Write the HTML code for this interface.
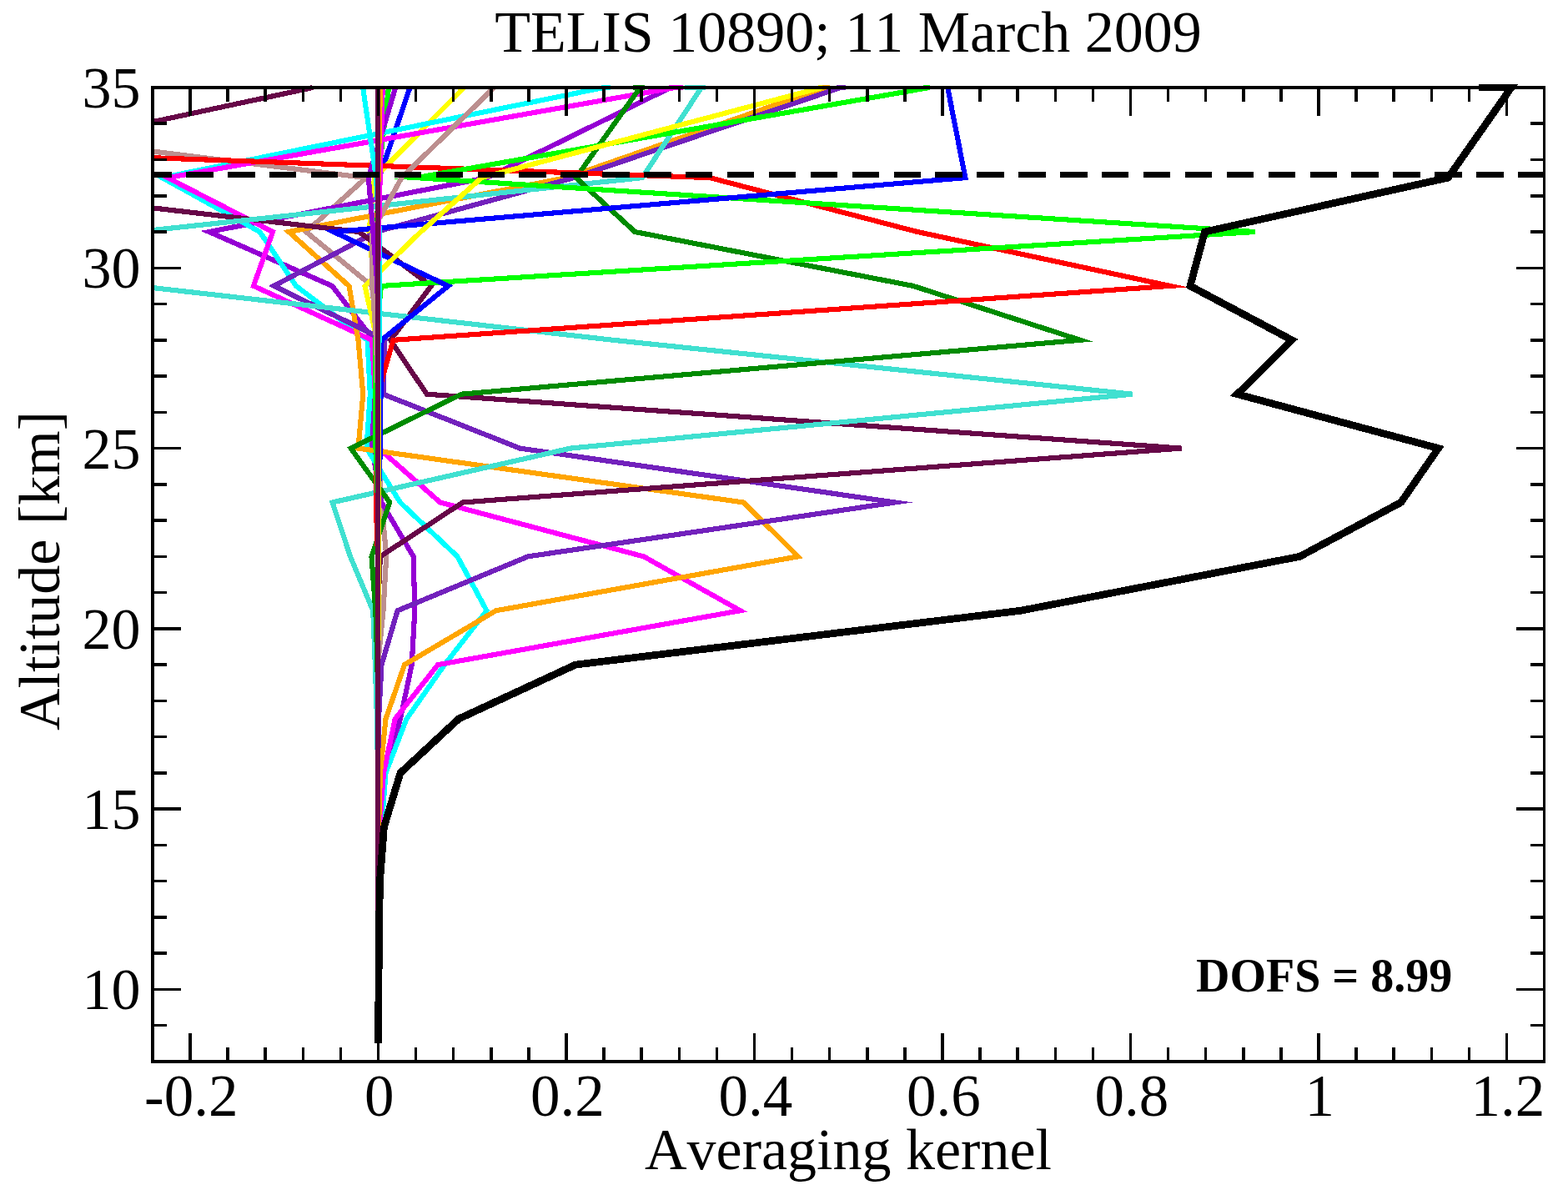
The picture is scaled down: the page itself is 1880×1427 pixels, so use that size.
<!DOCTYPE html>
<html lang="en"><head><meta charset="utf-8"><title>TELIS 10890; 11 March 2009</title>
<style>html,body{margin:0;padding:0;background:#fff}svg{display:block}text{font-family:"Liberation Serif","DejaVu Serif",serif;fill:#000;font-kerning:none;font-variant-ligatures:none}</style></head><body>
<svg width="1880" height="1427" viewBox="0 0 1880 1427">
<rect width="1880" height="1427" fill="#fff"/>
<g shape-rendering="crispEdges">
<g fill="none" stroke-width="6.12" stroke-linejoin="miter" stroke-miterlimit="10" stroke-linecap="butt">
<path stroke="#00ff00" d="M466,105L453.5,213.13L452,278.02L451.5,342.91L450.2,407.8L450.2,472.69L450.5,537.58L453,602.47L453,667.36L453,732.25L453,797.14L453,862.03L453,926.92L453,991.81L453,1056.7L453,1121.59L453,1186.48L453,1251.37"/>
<path stroke="#0000ff" d="M491.5,105L454.6,213.13L453.5,278.02L453.5,342.91L453,407.8L453,472.69L453,537.58L453,602.47L453,667.36L453,732.25L453,797.14L453,862.03L453,926.92L453,991.81L453,1056.7L453,1121.59L453,1186.48L453,1251.37"/>
<path stroke="#ffff00" d="M556.3,105L449,213.13L442.5,278.02L449,342.91L452,407.8L454,472.69L454,537.58L454,602.47L454,667.36L454,732.25L453,797.14L453,862.03L453,926.92L453,991.81L453,1056.7L453,1121.59L453,1186.48L453,1251.37"/>
<path stroke="#bc8f8f" d="M183,181.53L438.9,213.13L367,278.02L446,342.91L453,407.8L453,472.69L453,537.58L457.5,602.47L463.2,667.36L459.5,732.25L453,797.14L453,862.03L453,926.92L453,991.81L453,1056.7L453,1121.59L453,1186.48L453,1251.37"/>
<path stroke="#9400d3" d="M804,105L584,213.13L250.7,278.02L398.3,342.91L448,407.8L449,472.69L446,537.58L457.4,602.47L495.7,667.36L497.3,732.25L493.7,797.14L480,862.03L462,926.92L457.5,991.81L454,1056.7L453,1121.59L453,1186.48L453,1251.37"/>
<path stroke="#00ffff" d="M723.8,105L194.5,213.13L311.5,278.02L355,342.91L440.6,407.8L443.8,472.69L439.5,537.58L479.8,602.47L548.4,667.36L583.5,732.25L533,797.14L487.5,862.03L462.5,926.92L457.5,991.81L454,1056.7L453,1121.59L453,1186.48L453,1251.37M722.1,105H731.9"/>
<path stroke="#ff00ff" d="M809,105L201,213.13L327,278.02L304,342.91L446,407.8L450,472.69L454,537.58L527.7,602.47L771.8,667.36L887.5,732.25L525,797.14L473.7,862.03L460,926.92L455,991.81L453,1056.7L453,1121.59L453,1186.48L453,1251.37M802.1,105H818.7"/>
<path stroke="#ffa500" d="M989.4,105L679,213.13L346.3,278.02L418.5,342.91L429.5,407.8L435.3,472.69L429.5,537.58L891.5,602.47L957,667.36L594.7,732.25L485,797.14L462.5,862.03L456,926.92L454,991.81L453,1056.7L453,1121.59L453,1186.48L453,1251.37M983.9,105H995.1"/>
<path stroke="#7221bc" d="M1008,105L688,213.13L451,278.02L328.4,342.91L461.5,407.8L459.5,472.69L623.4,537.58L1073,602.47L633,667.36L476.6,732.25L457.5,797.14L454,862.03L453,926.92L453,991.81L453,1056.7L453,1121.59L453,1186.48L453,1251.37M1003.1,105H1014.3"/>
<path stroke="#670748" d="M375,105L183,146.11M183,249.36L430.6,278.02L517,342.91L468.2,407.8L511.7,472.69L1416.4,537.58L554.8,602.47L455.9,667.36L453,732.25L453,797.14L453,862.03L453,926.92L453,991.81L453,1056.7L453,1121.59L453,1186.48L453,1251.37"/>
<path stroke="#40e0d0" d="M841,105L770,213.13L183,275.99M183,345.07L735,407.8L1357.8,472.69L684,537.58L398.5,602.47L420,667.36L447.2,732.25L449.8,797.14L452,862.03L453,926.92L453,991.81L453,1056.7L453,1121.59L453,1186.48L453,1251.37M820.9,105H846"/>
<path stroke="#008b00" d="M767.5,105L690.6,213.13L761.3,278.02L1095,342.91L1295,407.8L553.2,472.69L420.7,537.58L467.2,602.47L445.5,667.36L450.3,732.25L452.5,797.14L453,862.03L453,926.92L453,991.81L453,1056.7L453,1121.59L453,1186.48L453,1251.37M759.1,105H772.8"/>
<path stroke="#ff0000" d="M183,189.22L851,213.13L1100,278.02L1403,342.91L471.5,407.8L453,472.69L452,537.58L450.7,602.47L453,667.36L453,732.25L453,797.14L453,862.03L453,926.92L453,991.81L453,1056.7L453,1121.59L453,1186.48L453,1251.37"/>
<path stroke="#00ff00" d="M1114,105L499,213.13L1504.8,278.02L457,342.91L450.2,407.8L450.2,472.69L450.5,537.58L453,602.47L453,667.36L453,732.25L453,797.14L453,862.03L453,926.92L453,991.81L453,1056.7L453,1121.59L453,1186.48L453,1251.37M1106.8,105H1114.8"/>
<path stroke="#0000ff" d="M1136.2,105L1157.4,213.13L400,278.02L537.4,342.91L457.5,407.8L456.5,472.69L456,537.58L453.5,602.47L454,667.36L454,732.25L453,797.14L453,862.03L453,926.92L453,991.81L453,1056.7L453,1121.59L453,1186.48L453,1251.37"/>
<path stroke="#ffff00" d="M985,105L577.5,213.13L504.5,278.02L437.5,342.91L452,407.8L454,472.69L454,537.58L454,602.47L454,667.36L454,732.25L453,797.14L453,862.03L453,926.92L453,991.81L453,1056.7L453,1121.59L453,1186.48L453,1251.37M980.7,105H986"/>
<path stroke="#bc8f8f" d="M592.3,105L481.5,213.13L446,278.02L446.5,342.91L451,407.8L453,472.69L453,537.58L453,602.47L453,667.36L453,732.25L453,797.14L453,862.03L453,926.92L453,991.81L453,1056.7L453,1121.59L453,1186.48L453,1251.37"/>
<path stroke="#9400d3" d="M474.2,105L441.8,213.13L447.4,278.02L452.5,342.91L453,407.8L453,472.69L453,537.58L453,602.47L453,667.36L453,732.25L453,797.14L453,862.03L453,926.92L453,991.81L453,1056.7L453,1121.59L453,1186.48L453,1251.37"/>
<path stroke="#00ffff" d="M435.1,105L451,213.13L454.9,278.02L454.9,342.91L454.5,407.8L453.5,472.69L453,537.58L453,602.47L453,667.36L453,732.25L453,797.14L453,862.03L453,926.92L453,991.81L453,1056.7L453,1121.59L453,1186.48L453,1251.37"/>
<path stroke="#ff00ff" d="M458.7,105L455.7,213.13L454,278.02L453,342.91L453,407.8L453,472.69L453,537.58L453,602.47L453,667.36L453,732.25L453,797.14L453,862.03L453,926.92L453,991.81L453,1056.7L453,1121.59L453,1186.48L453,1251.37"/>
<path stroke="#ffa500" d="M456,105L453.5,213.13L453,278.02L453,342.91L453,407.8L453,472.69L453,537.58L453,602.47L453,667.36L453,732.25L453,797.14L453,862.03L453,926.92L453,991.81L453,1056.7L453,1121.59L453,1186.48L453,1251.37"/>
<path stroke="#670748" d="M453,105L453,213.13L453,278.02L453,342.91L453,407.8L453,472.69L453,537.58L453,602.47L453,667.36L453,732.25L453,797.14L453,862.03L453,926.92L453,991.81L453,1056.7L453,1121.59L453,1186.48L453,1251.37"/>
<path stroke="#000000" stroke-width="8.75" d="M1773,105L1812,105L1736.3,213.13L1444.5,278.02L1427,342.91L1549,407.8L1483.5,472.69L1724.6,537.58L1679.7,602.47L1558.4,667.36L1223.8,732.25L690,797.14L550,862.03L480,926.92L460.4,991.81L455.5,1056.7L454.4,1121.59L454,1186.48L453.5,1251.37"/>
</g>
<path fill="#000" d="M183,206H205.7V213H183ZM223.2,206H255.6V213H223.2ZM273.1,206H305.5V213H273.1ZM323,206H355.4V213H323ZM372.9,206H405.3V213H372.9ZM422.8,206H455.2V213H422.8ZM472.7,206H505.1V213H472.7ZM522.6,206H555V213H522.6ZM572.5,206H604.9V213H572.5ZM622.4,206H654.8V213H622.4ZM672.3,206H704.7V213H672.3ZM722.2,206H754.6V213H722.2ZM772.1,206H804.5V213H772.1ZM822,206H854.4V213H822ZM871.9,206H904.3V213H871.9ZM921.8,206H954.2V213H921.8ZM971.7,206H1004.1V213H971.7ZM1021.6,206H1054V213H1021.6ZM1071.5,206H1103.9V213H1071.5ZM1121.4,206H1153.8V213H1121.4ZM1171.3,206H1203.7V213H1171.3ZM1221.2,206H1253.6V213H1221.2ZM1271.1,206H1303.5V213H1271.1ZM1321,206H1353.4V213H1321ZM1370.9,206H1403.3V213H1370.9ZM1420.8,206H1453.2V213H1420.8ZM1470.7,206H1503.1V213H1470.7ZM1520.6,206H1553V213H1520.6ZM1570.5,206H1602.9V213H1570.5ZM1620.4,206H1652.8V213H1620.4ZM1670.3,206H1702.7V213H1670.3ZM1720.2,206H1752.6V213H1720.2ZM1770.1,206H1802.5V213H1770.1ZM1820,206H1851.5V213H1820Z"/>
<path fill="#000" d="M181.25,103.25H1853.25V106.75H181.25ZM181.25,1271.25H1853.25V1274.75H181.25ZM181.25,103.25H184.75V1274.75H181.25ZM1849.75,103.25H1853.25V1274.75H1849.75ZM226.25,1239H229.75V1273H226.25ZM226.25,105H229.75V139H226.25ZM271.35,1256H274.85V1273H271.35ZM271.35,105H274.85V122H271.35ZM316.45,1256H319.95V1273H316.45ZM316.45,105H319.95V122H316.45ZM361.55,1256H365.05V1273H361.55ZM361.55,105H365.05V122H361.55ZM406.65,1256H410.15V1273H406.65ZM406.65,105H410.15V122H406.65ZM451.75,1239H455.25V1273H451.75ZM451.75,105H455.25V139H451.75ZM496.85,1256H500.35V1273H496.85ZM496.85,105H500.35V122H496.85ZM541.95,1256H545.45V1273H541.95ZM541.95,105H545.45V122H541.95ZM587.05,1256H590.55V1273H587.05ZM587.05,105H590.55V122H587.05ZM632.15,1256H635.65V1273H632.15ZM632.15,105H635.65V122H632.15ZM677.25,1239H680.75V1273H677.25ZM677.25,105H680.75V139H677.25ZM722.35,1256H725.85V1273H722.35ZM722.35,105H725.85V122H722.35ZM767.45,1256H770.95V1273H767.45ZM767.45,105H770.95V122H767.45ZM812.55,1256H816.05V1273H812.55ZM812.55,105H816.05V122H812.55ZM857.65,1256H861.15V1273H857.65ZM857.65,105H861.15V122H857.65ZM902.75,1239H906.25V1273H902.75ZM902.75,105H906.25V139H902.75ZM947.85,1256H951.35V1273H947.85ZM947.85,105H951.35V122H947.85ZM992.95,1256H996.45V1273H992.95ZM992.95,105H996.45V122H992.95ZM1038.05,1256H1041.55V1273H1038.05ZM1038.05,105H1041.55V122H1038.05ZM1083.15,1256H1086.65V1273H1083.15ZM1083.15,105H1086.65V122H1083.15ZM1128.25,1239H1131.75V1273H1128.25ZM1128.25,105H1131.75V139H1128.25ZM1173.35,1256H1176.85V1273H1173.35ZM1173.35,105H1176.85V122H1173.35ZM1218.45,1256H1221.95V1273H1218.45ZM1218.45,105H1221.95V122H1218.45ZM1263.55,1256H1267.05V1273H1263.55ZM1263.55,105H1267.05V122H1263.55ZM1308.65,1256H1312.15V1273H1308.65ZM1308.65,105H1312.15V122H1308.65ZM1353.75,1239H1357.25V1273H1353.75ZM1353.75,105H1357.25V139H1353.75ZM1398.85,1256H1402.35V1273H1398.85ZM1398.85,105H1402.35V122H1398.85ZM1443.95,1256H1447.45V1273H1443.95ZM1443.95,105H1447.45V122H1443.95ZM1489.05,1256H1492.55V1273H1489.05ZM1489.05,105H1492.55V122H1489.05ZM1534.15,1256H1537.65V1273H1534.15ZM1534.15,105H1537.65V122H1534.15ZM1579.25,1239H1582.75V1273H1579.25ZM1579.25,105H1582.75V139H1579.25ZM1624.35,1256H1627.85V1273H1624.35ZM1624.35,105H1627.85V122H1624.35ZM1669.45,1256H1672.95V1273H1669.45ZM1669.45,105H1672.95V122H1669.45ZM1714.55,1256H1718.05V1273H1714.55ZM1714.55,105H1718.05V122H1714.55ZM1759.65,1256H1763.15V1273H1759.65ZM1759.65,105H1763.15V122H1759.65ZM1804.75,1239H1808.25V1273H1804.75ZM1804.75,105H1808.25V139H1804.75ZM183,1227.99H200V1231.49H183ZM1834.5,1227.99H1851.5V1231.49H1834.5ZM183,1184.73H217V1188.23H183ZM1817.5,1184.73H1851.5V1188.23H1817.5ZM183,1141.47H200V1144.97H183ZM1834.5,1141.47H1851.5V1144.97H1834.5ZM183,1098.21H200V1101.71H183ZM1834.5,1098.21H1851.5V1101.71H1834.5ZM183,1054.95H200V1058.45H183ZM1834.5,1054.95H1851.5V1058.45H1834.5ZM183,1011.69H200V1015.19H183ZM1834.5,1011.69H1851.5V1015.19H1834.5ZM183,968.43H217V971.93H183ZM1817.5,968.43H1851.5V971.93H1817.5ZM183,925.17H200V928.67H183ZM1834.5,925.17H1851.5V928.67H1834.5ZM183,881.91H200V885.41H183ZM1834.5,881.91H1851.5V885.41H1834.5ZM183,838.65H200V842.15H183ZM1834.5,838.65H1851.5V842.15H1834.5ZM183,795.39H200V798.89H183ZM1834.5,795.39H1851.5V798.89H1834.5ZM183,752.13H217V755.63H183ZM1817.5,752.13H1851.5V755.63H1817.5ZM183,708.87H200V712.37H183ZM1834.5,708.87H1851.5V712.37H1834.5ZM183,665.61H200V669.11H183ZM1834.5,665.61H1851.5V669.11H1834.5ZM183,622.35H200V625.85H183ZM1834.5,622.35H1851.5V625.85H1834.5ZM183,579.09H200V582.59H183ZM1834.5,579.09H1851.5V582.59H1834.5ZM183,535.83H217V539.33H183ZM1817.5,535.83H1851.5V539.33H1817.5ZM183,492.57H200V496.07H183ZM1834.5,492.57H1851.5V496.07H1834.5ZM183,449.31H200V452.81H183ZM1834.5,449.31H1851.5V452.81H1834.5ZM183,406.05H200V409.55H183ZM1834.5,406.05H1851.5V409.55H1834.5ZM183,362.79H200V366.29H183ZM1834.5,362.79H1851.5V366.29H1834.5ZM183,319.53H217V323.03H183ZM1817.5,319.53H1851.5V323.03H1817.5ZM183,276.27H200V279.77H183ZM1834.5,276.27H1851.5V279.77H1834.5ZM183,233.01H200V236.51H183ZM1834.5,233.01H1851.5V236.51H1834.5ZM183,189.75H200V193.25H183ZM1834.5,189.75H1851.5V193.25H1834.5ZM183,146.49H200V149.99H183ZM1834.5,146.49H1851.5V149.99H1834.5Z"/>
</g>
<g font-size="70" text-anchor="middle">
<text x="1017" y="62">TELIS 10890; 11 March 2009</text>
<text x="1017" y="1402">Averaging kernel</text>
<text transform="translate(71,684.5) rotate(-90)">Altitude [km]</text>
</g>
<g font-size="71" text-anchor="middle">
<text x="229.3" y="1337.5">-0.2</text>
<text x="454.8" y="1337.5">0</text>
<text x="680.3" y="1337.5">0.2</text>
<text x="905.8" y="1337.5">0.4</text>
<text x="1131.3" y="1337.5">0.6</text>
<text x="1356.8" y="1337.5">0.8</text>
<text x="1582.3" y="1337.5">1</text>
<text x="1807.8" y="1337.5">1.2</text>
</g>
<g font-size="70" text-anchor="end">
<text x="168.5" y="1210.48">10</text>
<text x="168.5" y="994.18">15</text>
<text x="168.5" y="777.88">20</text>
<text x="168.5" y="561.58">25</text>
<text x="168.5" y="345.28">30</text>
<text x="168.5" y="128.98">35</text>
</g>
<text x="1434" y="1189" font-size="56" font-weight="bold">DOFS = 8.99</text>
</svg></body></html>
